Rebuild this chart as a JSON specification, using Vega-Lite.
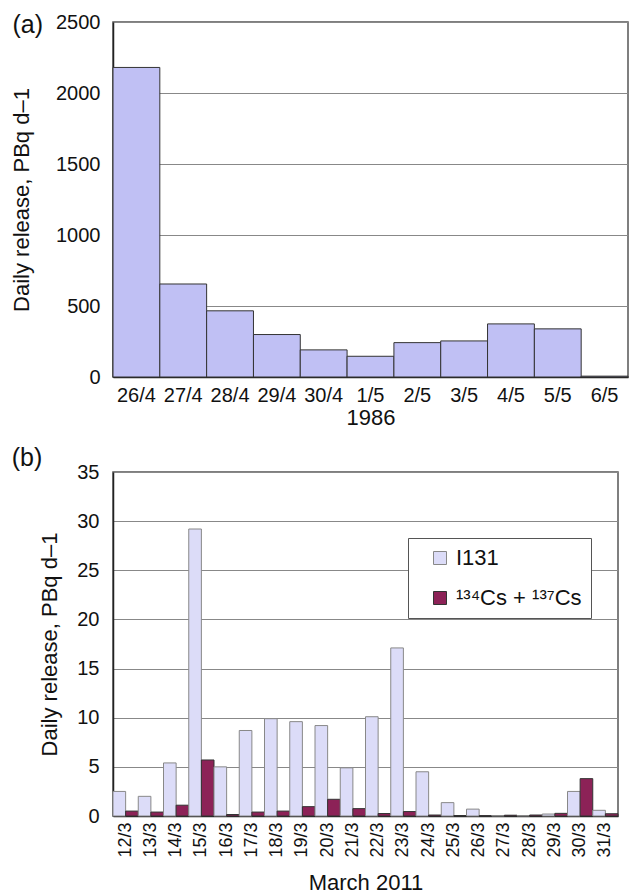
{
  "$schema": "https://vega.github.io/schema/vega-lite/v6.json",
  "background": "white",
  "padding": {"left": 9, "top": 11, "right": 0, "bottom": 0},
  "spacing": 16,
  "resolve": {"legend": {"color": "independent", "stroke": "independent"}},
  "datasets": {
    "chernobyl": [
      {"date": "26/4", "value": 2180},
      {"date": "27/4", "value": 655},
      {"date": "28/4", "value": 466},
      {"date": "29/4", "value": 299},
      {"date": "30/4", "value": 191},
      {"date": "1/5", "value": 146},
      {"date": "2/5", "value": 242},
      {"date": "3/5", "value": 254},
      {"date": "4/5", "value": 374},
      {"date": "5/5", "value": 339},
      {"date": "6/5", "value": 6}
    ],
    "fukushima": [
      {"date": "12/3", "nuclide": "I131", "value": 2.5},
      {"date": "12/3", "nuclide": "¹³⁴Cs + ¹³⁷Cs", "value": 0.5},
      {"date": "13/3", "nuclide": "I131", "value": 2.0},
      {"date": "13/3", "nuclide": "¹³⁴Cs + ¹³⁷Cs", "value": 0.4},
      {"date": "14/3", "nuclide": "I131", "value": 5.4},
      {"date": "14/3", "nuclide": "¹³⁴Cs + ¹³⁷Cs", "value": 1.1},
      {"date": "15/3", "nuclide": "I131", "value": 29.2},
      {"date": "15/3", "nuclide": "¹³⁴Cs + ¹³⁷Cs", "value": 5.7},
      {"date": "16/3", "nuclide": "I131", "value": 5.0},
      {"date": "16/3", "nuclide": "¹³⁴Cs + ¹³⁷Cs", "value": 0.15},
      {"date": "17/3", "nuclide": "I131", "value": 8.7},
      {"date": "17/3", "nuclide": "¹³⁴Cs + ¹³⁷Cs", "value": 0.4},
      {"date": "18/3", "nuclide": "I131", "value": 9.9},
      {"date": "18/3", "nuclide": "¹³⁴Cs + ¹³⁷Cs", "value": 0.5},
      {"date": "19/3", "nuclide": "I131", "value": 9.6},
      {"date": "19/3", "nuclide": "¹³⁴Cs + ¹³⁷Cs", "value": 0.95},
      {"date": "20/3", "nuclide": "I131", "value": 9.2},
      {"date": "20/3", "nuclide": "¹³⁴Cs + ¹³⁷Cs", "value": 1.7},
      {"date": "21/3", "nuclide": "I131", "value": 4.9},
      {"date": "21/3", "nuclide": "¹³⁴Cs + ¹³⁷Cs", "value": 0.75},
      {"date": "22/3", "nuclide": "I131", "value": 10.1},
      {"date": "22/3", "nuclide": "¹³⁴Cs + ¹³⁷Cs", "value": 0.25},
      {"date": "23/3", "nuclide": "I131", "value": 17.1},
      {"date": "23/3", "nuclide": "¹³⁴Cs + ¹³⁷Cs", "value": 0.45},
      {"date": "24/3", "nuclide": "I131", "value": 4.5},
      {"date": "24/3", "nuclide": "¹³⁴Cs + ¹³⁷Cs", "value": 0.1},
      {"date": "25/3", "nuclide": "I131", "value": 1.36},
      {"date": "25/3", "nuclide": "¹³⁴Cs + ¹³⁷Cs", "value": 0.05},
      {"date": "26/3", "nuclide": "I131", "value": 0.7},
      {"date": "26/3", "nuclide": "¹³⁴Cs + ¹³⁷Cs", "value": 0.02},
      {"date": "27/3", "nuclide": "I131", "value": 0.05},
      {"date": "27/3", "nuclide": "¹³⁴Cs + ¹³⁷Cs", "value": 0.08},
      {"date": "28/3", "nuclide": "I131", "value": 0.05},
      {"date": "28/3", "nuclide": "¹³⁴Cs + ¹³⁷Cs", "value": 0.1},
      {"date": "29/3", "nuclide": "I131", "value": 0.2},
      {"date": "29/3", "nuclide": "¹³⁴Cs + ¹³⁷Cs", "value": 0.27},
      {"date": "30/3", "nuclide": "I131", "value": 2.5},
      {"date": "30/3", "nuclide": "¹³⁴Cs + ¹³⁷Cs", "value": 3.8},
      {"date": "31/3", "nuclide": "I131", "value": 0.58},
      {"date": "31/3", "nuclide": "¹³⁴Cs + ¹³⁷Cs", "value": 0.23}
    ]
  },
  "vconcat": [
    {
      "width": 515,
      "height": 355,
      "title": {"text": "(a)", "anchor": "start", "frame": "bounds", "offset": -26, "dx": 2},
      "data": {"name": "chernobyl"},
      "mark": {"type": "bar", "fill": "#c0c0f4", "stroke": "#333333", "strokeWidth": 1},
      "encoding": {
        "x": {
          "field": "date", "type": "nominal", "sort": null,
          "scale": {"paddingInner": 0, "paddingOuter": 0},
          "axis": {"title": "1986", "labelAngle": 0, "labelPadding": 8, "titlePadding": 2}
        },
        "y": {
          "field": "value", "type": "quantitative",
          "scale": {"domain": [0, 2500], "nice": false},
          "axis": {"title": "Daily release, PBq d–1", "format": "d", "values": [0, 500, 1000, 1500, 2000, 2500], "labelPadding": 13, "titlePadding": 22, "grid": true}
        }
      }
    },
    {
      "width": 505,
      "height": 344,
      "title": {"text": "(b)", "anchor": "start", "frame": "bounds", "offset": -9, "dx": -27},
      "data": {"name": "fukushima"},
      "mark": {"type": "bar", "strokeWidth": 1},
      "encoding": {
        "x": {
          "field": "date", "type": "nominal", "sort": null,
          "scale": {"paddingInner": 0, "paddingOuter": 0},
          "axis": {"title": "March 2011", "labelAngle": -90, "labelFontSize": 18, "labelPadding": 6, "titlePadding": 15}
        },
        "xOffset": {
          "field": "nuclide", "type": "nominal", "sort": ["I131", "¹³⁴Cs + ¹³⁷Cs"],
          "scale": {"paddingInner": 0, "paddingOuter": 0}
        },
        "y": {
          "field": "value", "type": "quantitative",
          "scale": {"domain": [0, 35], "nice": false},
          "axis": {"title": "Daily release, PBq d–1", "values": [0, 5, 10, 15, 20, 25, 30, 35], "labelPadding": 14, "titlePadding": 15, "grid": true}
        },
        "color": {
          "field": "nuclide", "type": "nominal",
          "scale": {"domain": ["I131", "¹³⁴Cs + ¹³⁷Cs"], "range": ["#dcdcf8", "#8c2257"]},
          "legend": {
            "title": null, "orient": "none", "legendX": 295, "legendY": 66,
            "strokeColor": "#555555", "fillColor": "white", "padding": 9,
            "symbolType": "square", "symbolSize": 169, "symbolStrokeColor": "#444444", "symbolStrokeWidth": 1,
            "symbolOffset": 12, "labelFontSize": 22, "labelColor": "#111111", "rowPadding": 18, "labelOffset": 5
          }
        },
        "stroke": {
          "field": "nuclide", "type": "nominal",
          "scale": {"domain": ["I131", "¹³⁴Cs + ¹³⁷Cs"], "range": ["#888888", "#333333"]},
          "legend": null
        }
      }
    }
  ],
  "config": {
    "font": "Liberation Sans",
    "view": {"stroke": "#555555", "strokeWidth": 1.5},
    "axis": {
      "labelFont": "Liberation Sans", "labelFontSize": 20, "labelColor": "#111111",
      "titleFont": "Liberation Sans", "titleFontSize": 22, "titleFontWeight": "normal", "titleColor": "#111111",
      "domainColor": "#222222", "domainWidth": 1.5, "ticks": false, "gridColor": "#888888", "gridOpacity": 1, "gridWidth": 1
    },
    "axisX": {"grid": false},
    "title": {"font": "Liberation Sans", "fontSize": 25, "fontWeight": "normal", "color": "#111111"},
    "legend": {"labelFont": "Liberation Sans"}
  }
}
